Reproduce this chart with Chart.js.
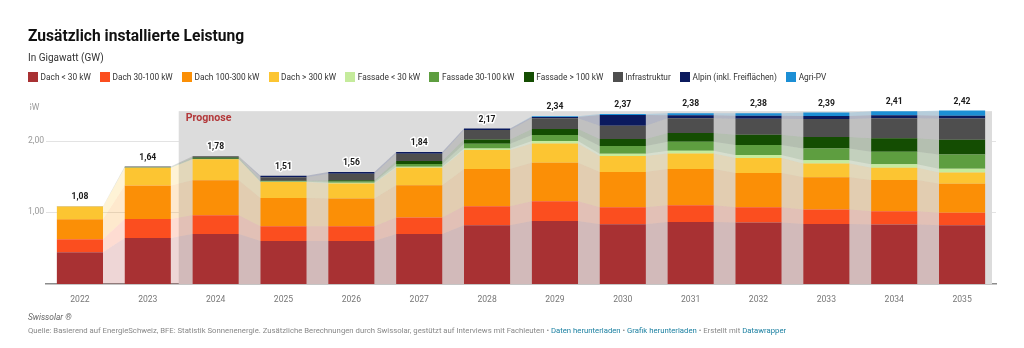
<!DOCTYPE html>
<html><head><meta charset="utf-8">
<script src="https://cdn.jsdelivr.net/npm/chart.js@4"></script>
<style>
html,body{margin:0;padding:0;background:#fff;}
body{width:1024px;height:348px;position:relative;overflow:hidden;font-family:Roboto,"Noto Sans",sans-serif;}
#c{position:absolute;left:0;top:0;}
#title{position:absolute;left:28px;top:27px;font-size:15.6px;line-height:18px;font-weight:700;color:#111;white-space:nowrap;}
#sub{position:absolute;left:28px;top:52px;font-size:10px;line-height:12px;color:#333;white-space:nowrap;}
#legend{position:absolute;left:28px;top:71.5px;height:11px;display:flex;align-items:center;white-space:nowrap;}
.li{display:flex;align-items:center;margin-right:9.2px;font-size:8.3px;color:#333;}
.sw{width:10px;height:10px;margin-right:2.6px;}
#brand{position:absolute;left:28px;top:312px;font-size:8.4px;line-height:11px;font-style:italic;color:#666;white-space:nowrap;}
#src{position:absolute;left:28px;top:325px;font-size:7.74px;line-height:11px;color:#888;white-space:nowrap;}
#src a{color:#1d81a2;text-decoration:none;}
</style></head>
<body>
<canvas id="c" width="1024" height="348"></canvas>
<div id="title">Zusätzlich installierte Leistung</div>
<div id="sub">In Gigawatt (GW)</div>
<div id="legend"></div>
<div id="brand">Swissolar ®</div>
<div id="src">Quelle: Basierend auf EnergieSchweiz, BFE: Statistik Sonnenenergie. Zusätzliche Berechnungen durch Swissolar, gestützt auf Interviews mit Fachleuten • <a>Daten herunterladen</a> • <a>Grafik herunterladen</a> • Erstellt mit <a>Datawrapper</a></div>
<script>
const years = ["2022","2023","2024","2025","2026","2027","2028","2029","2030","2031","2032","2033","2034","2035"];
const totalLabels = ["1,08","1,64","1,78","1,51","1,56","1,84","2,17","2,34","2,37","2,38","2,38","2,39","2,41","2,42"];
const yTickValues = [1, 2];
const yTickLabels = ["1,00", "2,00"];
const seriesNames = ["Dach < 30 kW","Dach 30-100 kW","Dach 100-300 kW","Dach > 300 kW","Fassade < 30 kW","Fassade 30-100 kW","Fassade > 100 kW","Infrastruktur","Alpin (inkl. Freiflächen)","Agri-PV"];
const seriesColors = ["#a83133","#fb4e1f","#fb8f06","#fcc532","#c5eb9c","#5e9e40","#144d02","#4e4e4e","#0b1a5e","#1c8fd5"];

const dach30     = [0.443,0.643,0.698,0.600,0.600,0.698,0.820,0.880,0.834,0.866,0.857,0.838,0.830,0.820];
const dach30_100 = [0.180,0.265,0.260,0.205,0.205,0.230,0.265,0.275,0.237,0.233,0.214,0.200,0.186,0.172];
const dach100_300= [0.280,0.466,0.490,0.395,0.387,0.450,0.517,0.535,0.489,0.503,0.475,0.452,0.433,0.405];
const dach300    = [0.176,0.246,0.290,0.223,0.210,0.242,0.265,0.270,0.224,0.219,0.210,0.190,0.172,0.159];
const fass30     = [0.000,0.000,0.003,0.004,0.008,0.015,0.023,0.033,0.033,0.037,0.042,0.047,0.047,0.051];
const fass30_100 = [0.000,0.004,0.007,0.006,0.018,0.037,0.065,0.084,0.107,0.126,0.140,0.163,0.177,0.200];
const fass100    = [0.000,0.004,0.015,0.006,0.020,0.042,0.060,0.084,0.098,0.121,0.144,0.158,0.186,0.205];
const infra      = [0.004,0.012,0.017,0.050,0.090,0.103,0.131,0.149,0.183,0.205,0.223,0.253,0.281,0.297];
const alpin      = [0.000,0.000,0.000,0.021,0.022,0.023,0.023,0.020,0.151,0.042,0.042,0.042,0.042,0.037];
const agri       = [0.000,0.000,0.000,0.000,0.000,0.000,0.000,0.010,0.014,0.028,0.033,0.047,0.056,0.074];
const seriesData = [dach30,dach30_100,dach100_300,dach300,fass30,fass30_100,fass100,infra,alpin,agri];

// legend
const lg = document.getElementById('legend');
seriesNames.forEach((n,i)=>{
  const d=document.createElement('div');d.className='li';
  const s=document.createElement('div');s.className='sw';s.style.background=seriesColors[i];
  d.appendChild(s);d.appendChild(document.createTextNode(n));lg.appendChild(d);
});

function hexA(h,a){const r=parseInt(h.slice(1,3),16),g=parseInt(h.slice(3,5),16),b=parseInt(h.slice(5,7),16);return `rgba(${r},${g},${b},${a})`;}

const bgPlugin = {
  id:'bg',
  beforeDatasetsDraw(chart){
    const {ctx, chartArea:ca, scales:{x,y}} = chart;
    ctx.save();
    ctx.strokeStyle='#e3e3e3';ctx.lineWidth=1;
    yTickValues.forEach(v=>{const py=Math.round(y.getPixelForValue(v))+0.5;ctx.beginPath();ctx.moveTo(ca.left,py);ctx.lineTo(ca.right,py);ctx.stroke();});
    ctx.fillStyle='#9a9a9a';ctx.font='8.6px Roboto';ctx.textAlign='left';ctx.textBaseline='middle';
    yTickValues.forEach((v,i)=>ctx.fillText(yTickLabels[i],28,y.getPixelForValue(v)));
    ctx.save();ctx.beginPath();ctx.rect(30,95,30,20);ctx.clip();
    ctx.fillText('GW',26,y.getPixelForValue(2.5)+3);ctx.restore();
    const bx = x.getPixelForValue(1.5)-3, bt = y.getPixelForValue(2.41);
    ctx.fillStyle='#dcdcdc';
    ctx.fillRect(bx,bt,ca.right-4-bx,ca.bottom-bt);
    chart.data.datasets.forEach((ds,di)=>{
      const meta=chart.getDatasetMeta(di);
      ctx.fillStyle=hexA(seriesColors[di],0.2);
      for(let i=0;i<meta.data.length-1;i++){
        const a=meta.data[i], b=meta.data[i+1];
        if(Math.abs(a.base-a.y)<0.01 && Math.abs(b.base-b.y)<0.01) continue;
        ctx.beginPath();
        ctx.moveTo(a.x+a.width/2,a.y);ctx.lineTo(b.x-b.width/2,b.y);
        ctx.lineTo(b.x-b.width/2,b.base);ctx.lineTo(a.x+a.width/2,a.base);ctx.closePath();ctx.fill();
      }
    });
    ctx.fillStyle='#b3383a';ctx.font='bold 10.6px Roboto';ctx.textAlign='left';ctx.textBaseline='middle';
    ctx.fillText('Prognose',bx+7,bt+7);
    ctx.restore();
  },
  afterDatasetsDraw(chart){
    const {ctx, scales:{x,y}} = chart;
    ctx.save();
    ctx.font='bold 8.6px Roboto';ctx.textAlign='center';ctx.textBaseline='middle';
    ctx.lineJoin='round';ctx.lineWidth=3;ctx.strokeStyle='#fff';ctx.fillStyle='#1a1a1a';
    years.forEach((yr,i)=>{
      let s=0;seriesData.forEach(d=>s+=d[i]);
      const px=x.getPixelForValue(i), py=y.getPixelForValue(s)-9;
      ctx.strokeText(totalLabels[i],px,py);ctx.fillText(totalLabels[i],px,py);
    });
    ctx.restore();
  }
};

new Chart(document.getElementById('c'),{
  type:'bar',
  data:{labels:years,datasets:seriesNames.map((n,i)=>({label:n,data:seriesData[i],backgroundColor:seriesColors[i],borderWidth:0,barPercentage:0.68,categoryPercentage:1.0}))},
  options:{
    responsive:false,animation:false,devicePixelRatio:1,
    layout:{padding:{left:46,right:28,top:104.7,bottom:43}},
    plugins:{legend:{display:false},tooltip:{enabled:false}},
    scales:{
      x:{stacked:true,grid:{display:false},border:{display:true,color:'#8c8c8c',width:1.5},
         ticks:{color:'#777',font:{family:'Roboto',size:8.6},padding:3,maxRotation:0},
         afterFit:s=>{s.height=21;}},
      y:{stacked:true,min:0,max:2.5,ticks:{display:false},grid:{display:false,drawTicks:false},border:{display:false},
         afterFit:s=>{s.width=0;}}
    }
  },
  plugins:[bgPlugin]
});
</script>
</body></html>
